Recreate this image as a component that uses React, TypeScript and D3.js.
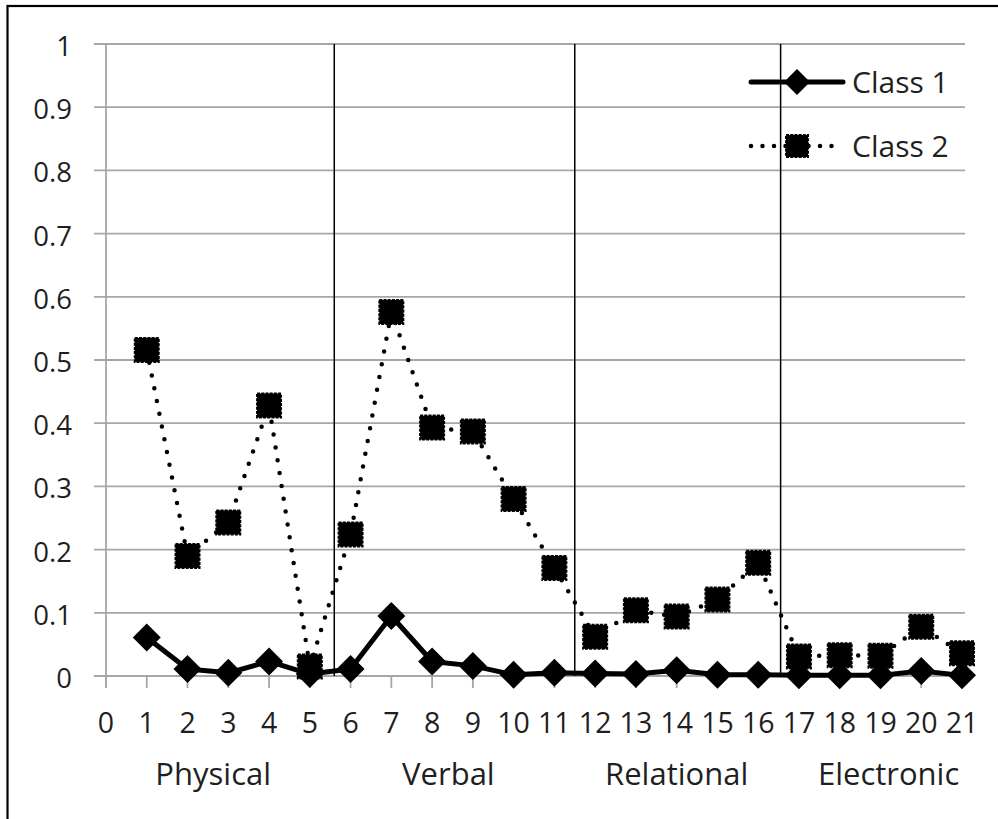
import React from 'react';
import * as d3 from 'd3';

// values
const xTicks = d3.range(0, 22);
const yTicks = [0, 0.1, 0.2, 0.3, 0.4, 0.5, 0.6, 0.7, 0.8, 0.9, 1];
const items = d3.range(1, 22);
const class1 = [
  0.061, 0.011, 0.005, 0.023, 0.003, 0.011, 0.095, 0.023, 0.016, 0.002, 0.005,
  0.004, 0.003, 0.009, 0.002, 0.002, 0.001, 0.001, 0.001, 0.008, 0.001,
];
const class2 = [
  0.516, 0.19, 0.243, 0.428, 0.015, 0.224, 0.576, 0.393, 0.387, 0.28, 0.171,
  0.062, 0.104, 0.094, 0.121, 0.179, 0.031, 0.033, 0.032, 0.078, 0.036,
];
const groups = ['Physical', 'Verbal', 'Relational', 'Electronic'];
const groupCenters = [2.63, 8.4, 14.0, 19.2];
const separators = [5.6, 11.5, 16.55];
const seriesNames = ['Class 1', 'Class 2'];

const FONT = "'Open Sans', 'Noto Sans', sans-serif";
const TEXT = '#1f1f1f';
const GRID = '#a6a6a6';

const Diamond = ({ x, y, r = 14 }: { x: number; y: number; r?: number }) => (
  <path d={`M${x},${y - r}L${x + r},${y}L${x},${y + r}L${x - r},${y}Z`} fill="#000" />
);

const Square = ({ x, y, s = 24 }: { x: number; y: number; s?: number }) => (
  <rect
    x={x - s / 2}
    y={y - s / 2}
    width={s}
    height={s}
    fill="#000"
    stroke="#000"
    strokeWidth={2}
    strokeDasharray="3 1.2"
  />
);

export default function App() {
  const left = 106,
    right = 962,
    top = 44,
    bottom = 676;

  const x = d3.scaleLinear().domain([0, 21]).range([left, right]);
  const y = d3.scaleLinear().domain([0, 1]).range([bottom, top]);

  const line = d3
    .line<number>()
    .x((_, i) => x(items[i]))
    .y((d) => y(d));

  const gridRight = right + 3;

  return (
    <svg
      width={998}
      height={819}
      style={{ position: 'absolute', left: 0, top: 0, background: '#fff' }}
    >
      {/* outer frame */}
      <rect x={7.5} y={6} width={1100} height={1000} fill="none" stroke="#000" strokeWidth={2.2} />

      {/* horizontal gridlines + y ticks */}
      {yTicks.map((t) => (
        <g key={t}>
          <line x1={94} x2={gridRight} y1={y(t)} y2={y(t)} stroke={GRID} strokeWidth={1.8} />
          <text
            x={72}
            y={y(t) + 12}
            textAnchor="end"
            fontFamily={FONT}
            fontSize={27.5}
            fill={TEXT}
          >
            {d3.format('~g')(t)}
          </text>
        </g>
      ))}

      {/* y axis */}
      <line x1={left} x2={left} y1={top} y2={bottom + 12} stroke={GRID} strokeWidth={1.8} />

      {/* x ticks */}
      {xTicks.map((t) => (
        <g key={t}>
          <line x1={x(t)} x2={x(t)} y1={bottom} y2={bottom + 12} stroke={GRID} strokeWidth={1.8} />
          <text
            x={x(t)}
            y={733}
            textAnchor="middle"
            fontFamily={FONT}
            fontSize={28.5}
            fill={TEXT}
          >
            {t}
          </text>
        </g>
      ))}

      {/* group separators */}
      {separators.map((s) => (
        <line key={s} x1={x(s)} x2={x(s)} y1={top} y2={bottom} stroke="#000" strokeWidth={1.5} />
      ))}

      {/* group labels */}
      {groups.map((g, i) => (
        <text
          key={g}
          x={x(groupCenters[i])}
          y={785}
          textAnchor="middle"
          fontFamily={FONT}
          fontSize={31}
          fill={TEXT}
        >
          {g}
        </text>
      ))}

      {/* Class 2 */}
      <path
        d={line(class2) ?? ''}
        fill="none"
        stroke="#000"
        strokeWidth={4.5}
        strokeLinecap="round"
        strokeDasharray="0 13"
      />
      {class2.map((v, i) => (
        <Square key={i} x={x(items[i])} y={y(v)} />
      ))}

      {/* Class 1 */}
      <path d={line(class1) ?? ''} fill="none" stroke="#000" strokeWidth={5} strokeLinejoin="round" />
      {class1.map((v, i) => (
        <Diamond key={i} x={x(items[i])} y={y(v)} />
      ))}

      {/* legend */}
      <g>
        <line x1={751} x2={843} y1={82} y2={82} stroke="#000" strokeWidth={5} strokeLinecap="round" />
        <Diamond x={797} y={82} r={13} />
        <text x={852} y={93} fontFamily={FONT} fontSize={30} fill={TEXT}>
          {seriesNames[0]}
        </text>
        <line
          x1={751}
          x2={843}
          y1={146}
          y2={146}
          stroke="#000"
          strokeWidth={4.5}
          strokeLinecap="round"
          strokeDasharray="0 11.5"
        />
        <Square x={797} y={146} s={22} />
        <text x={852} y={157} fontFamily={FONT} fontSize={30} fill={TEXT}>
          {seriesNames[1]}
        </text>
      </g>
    </svg>
  );
}
